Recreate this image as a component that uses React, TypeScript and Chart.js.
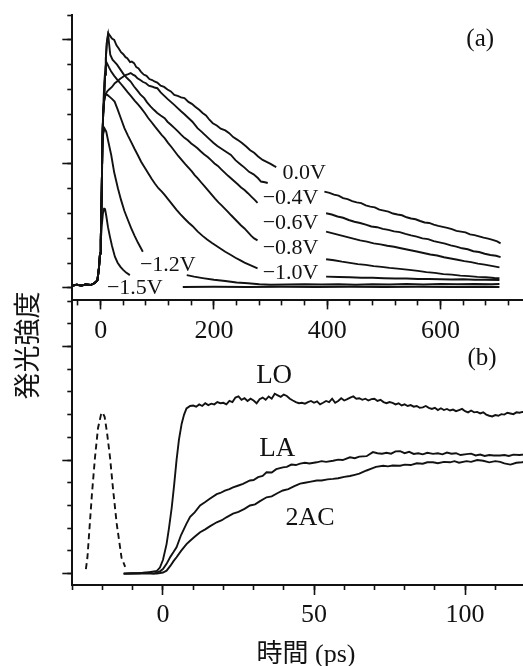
import { useEffect, useRef } from "react";
import { Chart, registerables } from "chart.js";

Chart.register(...registerables);

type Pt = [number, number | null];

const FONT = '"Liberation Serif", "Noto Sans CJK JP", serif';
const CJK = '"Noto Sans CJK JP", sans-serif';
const INK = "#121212";

// ---------- Panel (a): time (ps) vs intensity, by bias voltage ----------
const riseA: Pt[] = [[-50, 0.1], [-42, 0.13], [-34, 0.1], [-26, 0.14], [-18, 0.12], [-12, 0.18], [-8, 0.25], [-5.6, 0.32], [-3, 0.8], [-1, 1.4], [0.3, 1.94], [2, 4.0], [3.2, 6.0]];

const v00: Pt[] = [...riseA, [4.5, 7.0], [6.2, 7.6], [8, 8.6], [9.2, 9.26], [11, 9.9], [13.3, 10.27], [17, 10.15], [20, 10.05], [24, 10.0], [28, 9.78], [32, 9.65], [36, 9.5], [40, 9.42], [44, 9.3], [47, 9.26], [52, 9.1], [55, 9.12], [59, 9.06], [63, 8.9], [67, 8.85], [71, 8.72], [76, 8.6], [81, 8.55], [86, 8.42], [91, 8.38], [95, 8.32], [100, 8.28], [106, 8.15], [112, 8.1], [118, 8.0], [124, 7.92], [130, 7.78], [136, 7.74], [142, 7.68], [148, 7.65], [155, 7.5], [161, 7.42], [167, 7.3], [174, 7.18], [180, 7.05], [186, 6.95], [192, 6.78], [198, 6.64], [205, 6.55], [212, 6.42], [220, 6.35], [227, 6.24], [234, 6.08], [241, 5.98], [249, 5.85], [257, 5.7], [264, 5.55], [271, 5.45], [278, 5.3], [286, 5.16], [293, 5.08], [300, 5.0], [306, 4.92], [310, 4.87], [350, null],
  [395, 3.88], [404, 3.83], [412, 3.76], [420, 3.72], [428, 3.62], [436, 3.58], [444, 3.5], [452, 3.45], [460, 3.42], [468, 3.33], [476, 3.28], [484, 3.25], [492, 3.16], [500, 3.12], [508, 3.08], [516, 3.0], [524, 2.96], [532, 2.93], [540, 2.85], [548, 2.8], [556, 2.77], [564, 2.7], [572, 2.64], [580, 2.62], [588, 2.55], [596, 2.5], [604, 2.46], [612, 2.42], [620, 2.37], [628, 2.3], [636, 2.27], [644, 2.24], [652, 2.16], [660, 2.13], [668, 2.08], [676, 2.03], [684, 1.99], [692, 1.94], [700, 1.88], [706, 1.8]];

const v04: Pt[] = [...riseA, [4.5, 7.0], [6, 7.5], [8, 7.75], [11.5, 7.92], [15, 8.0], [20, 8.1], [25, 8.25], [29, 8.32], [34, 8.42], [39, 8.5], [44, 8.58], [49, 8.62], [53, 8.66], [57, 8.6], [61, 8.55], [65, 8.45], [70, 8.38], [75, 8.3], [80, 8.25], [85, 8.15], [90, 8.12], [95, 8.08], [100, 8.05], [106, 7.88], [112, 7.75], [118, 7.62], [124, 7.5], [130, 7.38], [136, 7.25], [142, 7.12], [148, 7.0], [155, 6.85], [162, 6.7], [171, 6.44], [178, 6.3], [185, 6.15], [192, 6.0], [199, 5.85], [206, 5.72], [214, 5.6], [222, 5.48], [230, 5.36], [238, 5.15], [246, 5.0], [254, 4.85], [262, 4.68], [270, 4.58], [278, 4.42], [283, 4.29], [290, 4.26], [295, 4.23], [350, null],
  [398, 3.01], [408, 2.96], [418, 2.88], [428, 2.83], [438, 2.74], [448, 2.67], [458, 2.62], [468, 2.55], [478, 2.48], [488, 2.45], [498, 2.38], [508, 2.34], [518, 2.28], [528, 2.25], [538, 2.18], [548, 2.12], [558, 2.07], [568, 2.0], [578, 1.97], [588, 1.89], [598, 1.84], [608, 1.79], [618, 1.72], [628, 1.67], [638, 1.6], [648, 1.56], [658, 1.48], [668, 1.45], [678, 1.38], [688, 1.33], [698, 1.3], [706, 1.24]];

const v06: Pt[] = [...riseA, [4.5, 7.0], [6.2, 7.6], [8, 8.6], [9.2, 9.26], [11, 9.9], [13.3, 10.2], [17, 9.4], [21, 9.2], [25, 9.1], [29, 9.0], [35, 8.8], [41, 8.6], [47, 8.45], [53, 8.32], [59, 8.12], [65, 7.95], [70, 7.8], [77, 7.65], [82, 7.48], [88, 7.32], [94, 7.18], [100, 7.05], [106, 6.95], [113, 6.84], [118, 6.7], [124, 6.58], [130, 6.45], [136, 6.32], [142, 6.18], [148, 6.05], [154, 5.95], [160, 5.82], [166, 5.72], [171, 5.63], [177, 5.5], [183, 5.38], [189, 5.28], [195, 5.15], [201, 5.02], [207, 4.92], [213, 4.78], [219, 4.65], [225, 4.52], [230, 4.42], [236, 4.3], [242, 4.18], [248, 4.05], [254, 3.95], [260, 3.82], [266, 3.68], [272, 3.55], [277, 3.43], [340, null],
  [398, 2.27], [410, 2.2], [422, 2.13], [434, 2.06], [446, 1.99], [458, 1.92], [470, 1.87], [482, 1.8], [494, 1.76], [506, 1.7], [518, 1.66], [530, 1.6], [545, 1.53], [558, 1.47], [570, 1.41], [582, 1.35], [594, 1.31], [606, 1.24], [618, 1.19], [630, 1.14], [642, 1.08], [654, 1.04], [666, 0.98], [678, 0.94], [690, 0.89], [704, 0.83]];

const v08: Pt[] = [...riseA, [4.5, 7.2], [6.5, 8.3], [8.5, 8.9], [10.2, 9.1], [12, 9.02], [15, 8.88], [18.7, 8.72], [24, 8.55], [30, 8.38], [36, 8.22], [42, 8.05], [48, 7.88], [54, 7.72], [60, 7.55], [66, 7.4], [71.5, 7.25], [78, 7.05], [84, 6.85], [90, 6.68], [96, 6.5], [102, 6.33], [108, 6.16], [113, 6.04], [119, 5.85], [125, 5.68], [131, 5.5], [137, 5.32], [143, 5.16], [149, 5.0], [155, 4.85], [161, 4.7], [166, 4.55], [171.5, 4.42], [178, 4.24], [184, 4.08], [190, 3.92], [196, 3.76], [202, 3.6], [208, 3.45], [214, 3.32], [220, 3.18], [226, 3.04], [230, 2.94], [236, 2.8], [242, 2.66], [248, 2.52], [254, 2.4], [260, 2.25], [266, 2.1], [271, 2.0], [277, 1.92], [340, null],
  [398, 1.16], [412, 1.12], [426, 1.06], [440, 1.01], [454, 0.96], [468, 0.93], [482, 0.88], [496, 0.85], [510, 0.81], [524, 0.78], [545, 0.73], [560, 0.69], [575, 0.64], [590, 0.61], [605, 0.56], [620, 0.54], [635, 0.5], [650, 0.48], [665, 0.45], [680, 0.43], [695, 0.4], [704, 0.39]];

const v10: Pt[] = [...riseA, [4.5, 7.0], [6.5, 7.6], [9, 7.8], [12, 7.78], [16, 7.7], [20, 7.62], [24.7, 7.51], [30, 7.2], [36, 6.82], [42, 6.44], [48, 6.15], [54, 5.88], [60, 5.6], [66, 5.34], [71.5, 5.09], [78, 4.85], [84, 4.62], [90, 4.4], [96, 4.2], [102, 4.02], [108, 3.88], [113, 3.75], [120, 3.55], [127, 3.35], [134, 3.15], [141, 2.97], [148, 2.8], [155, 2.64], [162, 2.5], [171.5, 2.27], [180, 2.1], [188, 1.95], [196, 1.82], [204, 1.7], [212, 1.58], [220, 1.46], [230, 1.33], [238, 1.22], [246, 1.12], [254, 1.02], [262, 0.94], [270, 0.86], [277, 0.79], [340, null],
  [398, 0.46], [420, 0.44], [440, 0.43], [460, 0.41], [480, 0.41], [500, 0.39], [520, 0.38], [540, 0.38], [560, 0.36], [580, 0.36], [600, 0.35], [620, 0.34], [640, 0.35], [660, 0.33], [680, 0.33], [704, 0.32]];

const v12: Pt[] = [...riseA.slice(0, 12), [3.2, 5.6], [4.5, 6.2], [7, 6.42], [9.9, 6.3], [14, 5.85], [18.7, 5.36], [24, 4.65], [30.5, 4.02], [36, 3.55], [42, 3.1], [48, 2.75], [53.9, 2.41], [60, 2.1], [66, 1.82], [70, 1.65], [74.5, 1.46], [110, null],
  [152, 0.52], [165, 0.46], [180, 0.4], [200, 0.33], [220, 0.28], [240, 0.22], [260, 0.19], [280, 0.15], [300, 0.13], [330, 0.14], [360, 0.15], [390, 0.14], [420, 0.15], [450, 0.13], [480, 0.15], [510, 0.14], [540, 0.16], [570, 0.14], [600, 0.16], [630, 0.15], [660, 0.16], [690, 0.15], [704, 0.16]];

const v15: Pt[] = [...riseA.slice(0, 10), [0.3, 1.9], [2, 2.5], [4, 3.0], [6, 3.2], [7.6, 3.21], [10, 2.9], [13, 2.45], [16.4, 2.07], [20, 1.7], [25.2, 1.26], [30, 1.02], [35, 0.85], [39.8, 0.73], [45, 0.62], [51.6, 0.52], [100, null],
  [145, 0.04], [200, 0.05], [260, 0.04], [320, 0.05], [380, 0.04], [440, 0.05], [500, 0.04], [560, 0.05], [620, 0.04], [680, 0.05], [704, 0.04]];

const voltLabels = ["0.0V", "\u22120.4V", "\u22120.6V", "\u22120.8V", "\u22121.0V", "\u22121.2V", "\u22121.5V"];
const xTickLabelsA = [0, 200, 400, 600];

// ---------- Panel (b): time (ps) vs intensity ----------
const seriesLO: Pt[] = [[-13, 0], [-10, 0.02], [-7, 0.03], [-5, 0.05], [-3, 0.1], [-2, 0.12], [-1, 0.27], [0, 0.6], [1.2, 1.3], [2, 2.0], [2.9, 2.9], [3.7, 3.9], [4.5, 5.0], [5.3, 5.9], [6.2, 6.6], [7, 7.0], [7.8, 7.27], [9, 7.38], [10, 7.4], [11, 7.35], [12, 7.45], [13, 7.38], [14, 7.5], [15, 7.42], [16, 7.48], [17, 7.45], [18, 7.55], [19, 7.5], [20, 7.52], [21, 7.45], [22, 7.6], [23, 7.55], [24, 7.75], [25, 7.8], [26, 7.65], [27, 7.72], [28, 7.6], [29, 7.7], [30, 7.62], [31, 7.5], [32, 7.68], [33, 7.75], [34, 7.65], [35, 7.8], [36, 7.7], [37, 7.92], [38, 7.85], [39, 7.78], [40, 7.88], [41, 7.82], [42, 7.7], [43, 7.62], [44, 7.55], [45, 7.5], [46, 7.52], [47, 7.48], [48, 7.55], [49, 7.6], [50, 7.52], [51, 7.58], [52, 7.45], [53, 7.52], [54, 7.6], [55, 7.55], [56, 7.7], [57, 7.52], [58, 7.6], [59, 7.72], [60, 7.62], [61, 7.68], [62, 7.75], [63, 7.8], [64, 7.7], [65, 7.72], [66, 7.65], [67, 7.7], [68, 7.62], [69, 7.68], [70, 7.7], [71, 7.6], [72, 7.65], [73, 7.55], [74, 7.5], [75, 7.55], [76, 7.52], [77, 7.45], [78, 7.5], [79, 7.4], [80, 7.45], [81, 7.38], [82, 7.42], [83, 7.35], [84, 7.38], [85, 7.3], [86, 7.32], [87, 7.38], [88, 7.3], [89, 7.25], [90, 7.3], [91, 7.2], [92, 7.28], [93, 7.2], [94, 7.25], [95, 7.18], [96, 7.22], [97, 7.15], [98, 7.2], [99, 7.25], [100, 7.15], [101, 7.1], [102, 7.18], [103, 7.1], [104, 7.12], [105, 7.05], [106, 7.1], [107, 7.0], [108, 6.95], [109, 6.92], [110, 6.98], [111, 6.95], [112, 7.02], [113, 7.0], [114, 7.08], [115, 7.05], [116, 7.02], [117, 7.1], [118, 7.08], [119, 7.12], [120, 7.1]];

const seriesLA: Pt[] = [[-13, 0], [-8, 0.02], [-5, 0.05], [-3, 0.0], [-1, 0.1], [0, 0.2], [1.2, 0.43], [2.5, 0.75], [3.5, 0.95], [4.5, 1.16], [6, 1.7], [7.8, 2.2], [9, 2.5], [10.5, 2.7], [12.3, 3.0], [14, 3.15], [15.5, 3.3], [17.8, 3.5], [19, 3.55], [20.5, 3.65], [22, 3.72], [23.2, 3.8], [25, 3.88], [26.5, 3.95], [28.8, 4.1], [30, 4.12], [31.5, 4.25], [33, 4.3], [34.3, 4.46], [36, 4.45], [37.5, 4.6], [39.7, 4.68], [41, 4.7], [42.5, 4.8], [44, 4.78], [45.4, 4.84], [47, 4.88], [48.5, 4.85], [50.9, 4.9], [52.5, 4.95], [54, 4.92], [56.3, 4.97], [58, 5.02], [59.5, 5.0], [61.9, 5.12], [63.5, 5.08], [65, 5.15], [67.4, 5.17], [69.5, 5.35], [71, 5.3], [72.5, 5.28], [74, 5.32], [75.5, 5.28], [77, 5.38], [78.5, 5.39], [80, 5.3], [81.5, 5.36], [83, 5.27], [84.5, 5.3], [86, 5.25], [87.5, 5.32], [89.4, 5.27], [91, 5.3], [92.5, 5.25], [94, 5.33], [95.5, 5.28], [97, 5.3], [98.5, 5.22], [100.5, 5.26], [102, 5.28], [103.5, 5.2], [105, 5.24], [106.5, 5.18], [108, 5.22], [109.5, 5.2], [111.6, 5.2], [113, 5.22], [114.5, 5.18], [116, 5.24], [118, 5.22], [120, 5.25]];

const series2AC: Pt[] = [[-13, 0], [-5, 0.02], [-2, 0.0], [0, 0.05], [1.2, 0.13], [2.5, 0.35], [3.5, 0.55], [4.5, 0.72], [6, 1.0], [7.8, 1.3], [9, 1.45], [10.5, 1.62], [12.3, 1.82], [14, 1.95], [15.5, 2.08], [17.8, 2.26], [19.5, 2.35], [21, 2.48], [23.2, 2.64], [25, 2.72], [27, 2.85], [28.8, 3.0], [30.5, 3.05], [32, 3.18], [34.3, 3.36], [36, 3.4], [38, 3.55], [39.7, 3.66], [41.5, 3.72], [43.5, 3.85], [45.4, 3.96], [47, 4.0], [49, 4.05], [50.9, 4.1], [52.5, 4.1], [54.5, 4.15], [56.3, 4.17], [58, 4.2], [60, 4.26], [61.9, 4.3], [63.5, 4.35], [65, 4.4], [67.4, 4.54], [69, 4.62], [70.5, 4.7], [72.9, 4.75], [74.5, 4.72], [76, 4.76], [78.5, 4.75], [80, 4.8], [82, 4.78], [84, 4.86], [86, 4.84], [87.5, 4.9], [89.4, 4.9], [91, 4.86], [93, 4.92], [95, 4.9], [96.5, 4.95], [98, 4.88], [100.5, 4.95], [102, 4.92], [104, 5.0], [106, 4.97], [108, 4.9], [110, 4.95], [111.6, 4.92], [113, 4.85], [115, 4.8], [117, 4.88], [118.8, 4.9], [120, 4.92]];

const seriesPulse: Pt[] = [[-25.5, 0.2], [-25, 0.7], [-24.2, 2.2], [-23.5, 3.5], [-22.5, 5.1], [-21.5, 6.4], [-20.5, 7.0], [-20, 7.1], [-19.3, 6.9], [-18.5, 6.2], [-17.5, 5.1], [-16.5, 3.7], [-15.3, 2.2], [-13.7, 0.7], [-12.5, 0.3]];

const seriesNamesB = ["LO", "LA", "2AC"];
const xTickLabelsB = [0, 50, 100];

// ---------- helpers ----------
const toXY = (pts: Pt[]) => pts.map(([x, y]) => ({ x, y }));

const lineDs = (pts: Pt[], label: string, dash: number[] = []) => ({
  label,
  data: toXY(pts),
  borderColor: INK,
  borderWidth: 1.9,
  borderDash: dash,
  pointRadius: 0,
  tension: 0,
  spanGaps: false,
  fill: false,
});

const textPlugin = {
  id: "texts",
  afterDraw(chart: any, _args: any, opts: any) {
    const { ctx, scales } = chart;
    ctx.save();
    for (const t of opts.items || []) {
      ctx.font = `${t.size}px ${t.family || FONT}`;
      ctx.fillStyle = INK;
      ctx.textAlign = t.align || "center";
      ctx.textBaseline = "middle";
      const px = t.px ? t.px[0] : scales.x.getPixelForValue(t.x);
      const py = t.px ? t.px[1] : scales.y.getPixelForValue(t.y);
      if (t.rotate) {
        ctx.save();
        ctx.translate(px, py);
        ctx.rotate(t.rotate);
        ctx.fillText(t.text, 0, 0);
        ctx.restore();
      } else {
        ctx.fillText(t.text, px, py);
      }
    }
    ctx.restore();
  },
};

const stepList = (from: number, to: number, step: number) => {
  const out: number[] = [];
  for (let v = from; v <= to + 1e-9; v += step) out.push(Math.round(v * 1000) / 1000);
  return out;
};

const gridOpts = (len: number) => ({
  display: true,
  drawOnChartArea: false,
  drawTicks: true,
  tickLength: len,
  tickWidth: 1.6,
  tickColor: INK,
});
const borderOpts = { display: true, color: INK, width: 2 };

function buildScales(p: {
  xMin: number; xMax: number; xMinorTicks: number[]; xLabels: number[];
  yMin: number; yMax: number; yMinorTicks: number[]; yMajorTicks: number[];
  xAxisH: number; labelPad: number; xMajLen: number;
}) {
  const setTicks = (vals: number[]) => (s: any) => { s.ticks = vals.map((value) => ({ value })); };
  return {
    x: {
      type: "linear", position: "bottom", min: p.xMin, max: p.xMax, weight: 0,
      afterBuildTicks: setTicks(p.xMinorTicks),
      afterFit: (s: any) => { s.height = 0; },
      ticks: { display: false, autoSkip: false },
      grid: gridOpts(5), border: borderOpts,
    },
    xMaj: {
      type: "linear", position: "bottom", min: p.xMin, max: p.xMax, weight: 1,
      afterBuildTicks: setTicks(p.xLabels),
      afterFit: (s: any) => { s.height = p.xAxisH; },
      ticks: {
        autoSkip: false, maxRotation: 0, minRotation: 0, padding: p.labelPad, color: INK,
        font: { family: FONT, size: 26 },
        callback: (v: any) => String(v),
      },
      grid: gridOpts(p.xMajLen), border: borderOpts,
    },
    y: {
      type: "linear", position: "left", min: p.yMin, max: p.yMax, weight: 0,
      afterBuildTicks: setTicks(p.yMinorTicks),
      afterFit: (s: any) => { s.width = 0; },
      ticks: { display: false },
      grid: gridOpts(5), border: borderOpts,
    },
    yMaj: {
      type: "linear", position: "left", min: p.yMin, max: p.yMax, weight: 1,
      afterBuildTicks: setTicks(p.yMajorTicks),
      afterFit: (s: any) => { s.width = 0; },
      ticks: { display: false },
      grid: gridOpts(10), border: borderOpts,
    },
  };
}

const W = 540;
const HA = 345;
const HB = 666;

export default function App() {
  const refA = useRef<HTMLCanvasElement | null>(null);
  const refB = useRef<HTMLCanvasElement | null>(null);

  useEffect(() => {
    const curvesA = [v00, v04, v06, v08, v10, v12, v15];
    const chartA = new Chart(refA.current as HTMLCanvasElement, {
      type: "line",
      data: { datasets: curvesA.map((c, i) => lineDs(c, voltLabels[i])) as any },
      options: {
        animation: false,
        responsive: false,
        devicePixelRatio: 1,
        events: [],
        layout: { padding: { left: 72.3, top: 15, right: W - 525.5, bottom: 0 }, autoPadding: false },
        plugins: {
          legend: { display: false },
          tooltip: { enabled: false },
          texts: {
            items: [
              { text: voltLabels[0], x: 321, y: 4.64, align: "left", size: 22 },
              { text: voltLabels[1], x: 286, y: 3.63, align: "left", size: 22 },
              { text: voltLabels[2], x: 286, y: 2.62, align: "left", size: 22 },
              { text: voltLabels[3], x: 286, y: 1.61, align: "left", size: 22 },
              { text: voltLabels[4], x: 286, y: 0.6, align: "left", size: 22 },
              { text: voltLabels[5], x: 69.4, y: 0.93, align: "left", size: 22 },
              { text: voltLabels[6], x: 11.1, y: -0.01, align: "left", size: 22 },
              { text: "(a)", x: 670, y: 10.0, size: 25 },
            ],
          },
        } as any,
        scales: buildScales({
          xMin: -50, xMax: 750, xMinorTicks: stepList(-40, 720, 40), xLabels: xTickLabelsA,
          yMin: -0.5, yMax: 11, yMinorTicks: stepList(0, 11, 1), yMajorTicks: [0, 5, 10],
          xAxisH: HA - 300.4, labelPad: 6, xMajLen: 9,
        }) as any,
      },
      plugins: [textPlugin],
    });

    const chartB = new Chart(refB.current as HTMLCanvasElement, {
      type: "line",
      data: {
        datasets: [
          lineDs(seriesLO, seriesNamesB[0]),
          lineDs(seriesLA, seriesNamesB[1]),
          lineDs(series2AC, seriesNamesB[2]),
          lineDs(seriesPulse, "pulse", [6, 4]),
        ] as any,
      },
      options: {
        animation: false,
        responsive: false,
        devicePixelRatio: 1,
        events: [],
        layout: { padding: { left: 72.3, top: 301, right: W - 525.5, bottom: 0 }, autoPadding: false },
        plugins: {
          legend: { display: false },
          tooltip: { enabled: false },
          texts: {
            items: [
              { text: seriesNamesB[0], x: 36.8, y: 8.72, size: 27 },
              { text: seriesNamesB[1], x: 37.8, y: 5.5, size: 27 },
              { text: seriesNamesB[2], x: 48.7, y: 2.42, size: 26 },
              { text: "(b)", x: 105.6, y: 9.47, size: 25 },
              { text: "時間 (ps)", px: [306, 655], size: 26 },
              { text: "発光強度", px: [26.5, 345.5], size: 27, family: CJK, rotate: -Math.PI / 2 },
            ],
          },
        } as any,
        scales: buildScales({
          xMin: -30, xMax: 120, xMinorTicks: stepList(-30, 120, 10), xLabels: xTickLabelsB,
          yMin: -0.5, yMax: 12, yMinorTicks: stepList(0, 12, 1), yMajorTicks: [0, 5, 10],
          xAxisH: HB - 585, labelPad: 4.4, xMajLen: 10,
        }) as any,
      },
      plugins: [textPlugin],
    });

    return () => {
      chartA.destroy();
      chartB.destroy();
    };
  }, []);

  return (
    <div style={{ position: "absolute", left: 0, top: 0, width: 523, height: 666, overflow: "hidden", background: "#fff" }}>
      <canvas ref={refA} width={W} height={HA} style={{ position: "absolute", left: 0, top: 0, width: W, height: HA }} />
      <canvas ref={refB} width={W} height={HB} style={{ position: "absolute", left: 0, top: 0, width: W, height: HB }} />
    </div>
  );
}
